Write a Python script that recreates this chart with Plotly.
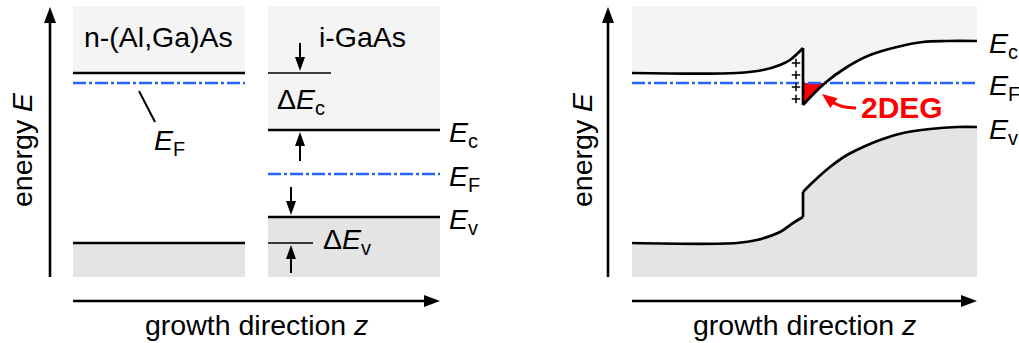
import math
import plotly.graph_objects as go

# ---------------- data (arbitrary units) ----------------
# left panel: separate materials
z_AlGaAs = [0.0, 17.2]
z_GaAs = [19.5, 36.7]
E_top, E_bottom = 27.1, 0.0
Ec_AlGaAs, EF_AlGaAs, Ev_AlGaAs = 20.4, 19.4, 3.4
Ec_GaAs, EF_GaAs, Ev_GaAs = 14.7, 10.3, 6.0

# right panel: heterojunction
z_box2 = [0.0, 34.5]
z_Ec_left = [0.0, 10.5, 13.1, 14.8, 15.8, 17.1]
E_Ec_left = [20.4, 20.4, 20.7, 21.2, 21.7, 22.9]
z_Ec_right = [17.1, 19.3, 21.5, 23.8, 26.5, 29.1, 31.5, 34.5]
E_Ec_right = [17.2, 19.4, 21.0, 22.2, 23.0, 23.5, 23.6, 23.6]
z_Ev_left = [0.0, 10.5, 12.5, 14.8, 16.1, 17.1]
E_Ev_left = [3.4, 3.4, 3.7, 4.5, 5.4, 6.0]
z_Ev_right = [17.1, 18.1, 19.8, 21.5, 23.1, 24.8, 27.1, 29.8, 32.5, 34.5]
E_Ev_right = [8.5, 9.5, 11.0, 12.2, 13.0, 13.7, 14.4, 14.8, 15.0, 15.0]
EF_2 = 19.4
z_plus = 16.4
E_plus = [21.4, 20.2, 19.0, 17.8]

# ---------------- style ----------------
LIGHT = "#f4f4f4"
DARK = "#e4e4e4"
BLUE = "#2266ff"
RED = "#ff0000"
FONT = "Liberation Sans, Arial, Helvetica, sans-serif"
FS = 28.5
DASH = "13px,3px,3px,3px"

fig = go.Figure()
shapes = []
annotations = []


def arrow(xr, yr, x0, y0, x1, y1, w, hl, hw, color="black"):
    dx, dy = x1 - x0, y1 - y0
    L = math.hypot(dx, dy)
    ux, uy = dx / L, dy / L
    bx, by = x1 - ux * hl, y1 - uy * hl
    px, py = -uy * hw / 2, ux * hw / 2
    if w > 0:
        shapes.append(dict(type="line", xref=xr, yref=yr, x0=x0, y0=y0,
                           x1=x1 - ux * hl * 0.7, y1=y1 - uy * hl * 0.7,
                           line=dict(color=color, width=w)))
    shapes.append(dict(type="path", xref=xr, yref=yr,
                       path=f"M{x1},{y1} L{bx+px},{by+py} L{bx-px},{by-py} Z",
                       fillcolor=color, line=dict(width=0)))


def text(xr, yr, x, y, t, size=FS, xanchor="center", yanchor="middle",
         color="black", angle=0, bold=False):
    if bold:
        t = f"<b>{t}</b>"
    annotations.append(dict(xref=xr, yref=yr, x=x, y=y, text=t, showarrow=False,
                            xanchor=xanchor, yanchor=yanchor, textangle=angle,
                            font=dict(family=FONT, size=size, color=color)))


def line(xr, yr, x0, y0, x1, y1, w, color="black"):
    shapes.append(dict(type="line", xref=xr, yref=yr, x0=x0, y0=y0, x1=x1, y1=y1,
                       line=dict(color=color, width=w)))


def rect(xr, yr, x0, y0, x1, y1, color):
    shapes.append(dict(type="rect", xref=xr, yref=yr, x0=x0, y0=y0, x1=x1, y1=y1,
                       fillcolor=color, line=dict(width=0), layer="below"))


# ---------------- left panel ----------------
for (za, zb), Ec, EF, Ev in [(z_AlGaAs, Ec_AlGaAs, EF_AlGaAs, Ev_AlGaAs),
                             (z_GaAs, Ec_GaAs, EF_GaAs, Ev_GaAs)]:
    rect("x", "y", za, Ec, zb, E_top, LIGHT)
    rect("x", "y", za, E_bottom, zb, Ev, DARK)
    fig.add_trace(go.Scatter(x=[za, zb], y=[Ec, Ec], mode="lines",
                             line=dict(color="black", width=2.7), xaxis="x", yaxis="y"))
    fig.add_trace(go.Scatter(x=[za, zb], y=[Ev, Ev], mode="lines",
                             line=dict(color="black", width=2.7), xaxis="x", yaxis="y"))
    fig.add_trace(go.Scatter(x=[za, zb], y=[EF, EF], mode="lines",
                             line=dict(color=BLUE, width=2.5, dash=DASH), xaxis="x", yaxis="y"))

# offsets reference lines
zg0 = z_GaAs[0]
line("x", "y", zg0, Ec_AlGaAs, 25.8, Ec_AlGaAs, 1.6)
line("x", "y", zg0, Ev_AlGaAs, 24.0, Ev_AlGaAs, 1.6)
# delta arrows
arrow("x", "y", 22.7, 23.4, 22.7, Ec_AlGaAs + 0.2, 2.0, 1.4, 1.0)
arrow("x", "y", 22.7, 11.6, 22.7, Ec_GaAs - 0.2, 2.0, 1.4, 1.0)
arrow("x", "y", 21.8, 9.0, 21.8, Ev_GaAs + 0.2, 2.0, 1.4, 1.0)
arrow("x", "y", 21.8, 0.4, 21.8, Ev_AlGaAs - 0.2, 2.0, 1.4, 1.0)

# axes arrows
arrow("x", "y", -2.3, E_bottom, -2.3, 27.0, 2.6, 1.6, 1.2)
arrow("x", "y", z_AlGaAs[0], -2.4, z_GaAs[1], -2.4, 2.6, 1.6, 1.2)
# E_F leader line
line("x", "y", 6.6, 18.6, 8.2, 15.5, 2)

text("x", "y", 8.5, 24.0, "n-(Al,Ga)As")
text("x", "y", 28.9, 24.0, "i-GaAs")
text("x", "y", 20.2, 17.6, "Δ<i>E</i><sub>c</sub>", xanchor="left")
text("x", "y", 24.8, 3.6, "Δ<i>E</i><sub>v</sub>", xanchor="left")
text("x", "y", 7.9, 13.5, "<i>E</i><sub>F</sub>", xanchor="left")
text("x", "y", 37.4, Ec_GaAs - 0.4, "<i>E</i><sub>c</sub>", xanchor="left")
text("x", "y", 37.4, EF_GaAs - 0.4, "<i>E</i><sub>F</sub>", xanchor="left")
text("x", "y", 37.4, Ev_GaAs - 0.4, "<i>E</i><sub>v</sub>", xanchor="left")
text("x", "y", -5.1, 12.7, "energy <i>E</i>", angle=-90)
text("x", "y", 18.3, -4.8, "growth direction <i>z</i>")

# ---------------- right panel ----------------
rect("x2", "y2", z_box2[0], E_bottom, z_box2[1], E_top, LIGHT)
for zs, Es, zc, Ec in [(z_Ev_left, E_Ev_left, z_Ec_left, E_Ec_left),
                       (z_Ev_right, E_Ev_right, z_Ec_right, E_Ec_right)]:
    fig.add_trace(go.Scatter(x=zs, y=Es, mode="lines", fill="tozeroy", fillcolor=DARK,
                             line=dict(width=0, shape="spline"), xaxis="x2", yaxis="y2"))
    fig.add_trace(go.Scatter(x=zc, y=Ec, mode="lines", fill="tonexty",
                             fillcolor="white", line=dict(width=0, shape="spline"),
                             xaxis="x2", yaxis="y2"))

# 2DEG
fig.add_trace(go.Scatter(x=[z_Ec_right[0], z_Ec_right[1], z_Ec_right[0]],
                         y=[E_Ec_right[0], EF_2, EF_2], mode="lines", fill="toself",
                         fillcolor=RED, line=dict(width=0), xaxis="x2", yaxis="y2"))
# Fermi level
fig.add_trace(go.Scatter(x=z_box2, y=[EF_2, EF_2], mode="lines",
                         line=dict(color=BLUE, width=2.5, dash=DASH), xaxis="x2", yaxis="y2"))
# band edges
for zs, Es in [(z_Ec_left, E_Ec_left), (z_Ec_right, E_Ec_right),
               (z_Ev_left, E_Ev_left), (z_Ev_right, E_Ev_right)]:
    fig.add_trace(go.Scatter(x=zs, y=Es, mode="lines",
                             line=dict(color="black", width=2.7, shape="spline"),
                             xaxis="x2", yaxis="y2"))
fig.add_trace(go.Scatter(x=[z_Ec_left[-1], z_Ec_right[0]], y=[E_Ec_left[-1], E_Ec_right[0]],
                         mode="lines", line=dict(color="black", width=2.7), xaxis="x2", yaxis="y2"))
fig.add_trace(go.Scatter(x=[z_Ev_left[-1], z_Ev_right[0]], y=[E_Ev_left[-1], E_Ev_right[0]],
                         mode="lines", line=dict(color="black", width=2.7), xaxis="x2", yaxis="y2"))

# positive donor charges
fig.add_trace(go.Scatter(x=[z_plus] * len(E_plus), y=E_plus, mode="markers",
                         marker=dict(symbol="cross-thin", size=6, color="black",
                                     line=dict(color="black", width=1.5)),
                         xaxis="x2", yaxis="y2"))

# red curved arrow to 2DEG
shapes.append(dict(type="path", xref="x2", yref="y2",
                   path="M22.4,16.9 Q20.8,16.9 19.9,17.6",
                   line=dict(color=RED, width=3)))
arrow("x2", "y2", 20.5, 17.15, 19.0, 18.3, 0, 1.5, 1.2, color=RED)
text("x2", "y2", 22.7, 17.0, "2DEG", size=30, color=RED, bold=True, xanchor="left")

arrow("x2", "y2", -2.4, E_bottom, -2.4, 27.0, 2.6, 1.6, 1.2)
arrow("x2", "y2", z_box2[0], -2.4, z_box2[1], -2.4, 2.6, 1.6, 1.2)

text("x2", "y2", 35.5, 23.6 - 0.4, "<i>E</i><sub>c</sub>", xanchor="left")
text("x2", "y2", 35.5, EF_2 - 0.4, "<i>E</i><sub>F</sub>", xanchor="left")
text("x2", "y2", 35.5, 15.0 - 0.4, "<i>E</i><sub>v</sub>", xanchor="left")
text("x2", "y2", -5.0, 12.7, "energy <i>E</i>", angle=-90)
text("x2", "y2", 17.2, -4.8, "growth direction <i>z</i>")

ax = dict(visible=False, fixedrange=True)
fig.update_layout(
    width=1019, height=343, margin=dict(l=0, r=0, t=0, b=0),
    paper_bgcolor="white", plot_bgcolor="white", showlegend=False,
    xaxis=dict(domain=[0, 460 / 1019], range=[-7.3, 38.7], **ax),
    yaxis=dict(domain=[0, 1], range=[-6.6, 27.7], **ax),
    xaxis2=dict(domain=[560 / 1019, 1], range=[-7.2, 38.7], anchor="y2", **ax),
    yaxis2=dict(domain=[0, 1], range=[-6.6, 27.7], anchor="x2", **ax),
    shapes=shapes, annotations=annotations,
)
fig.write_html("out.html")
